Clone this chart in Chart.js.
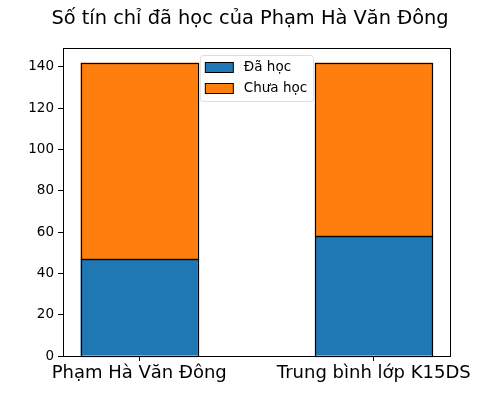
<!DOCTYPE html>
<html>
<head>
<meta charset="utf-8">
<script src="https://cdn.jsdelivr.net/npm/chart.js@4.4.1/dist/chart.umd.min.js"></script>
<style>
    html, body { margin: 0; padding: 0; background: #fff; }
    #wrap { width: 500px; height: 400px; }
</style>
</head>
<body>
<div id="wrap"><canvas id="chart"></canvas></div>
<script>
// data
const categories = ['Phạm Hà Văn Đông', 'Trung bình lớp K15DS'];
const daHoc = [47, 58];
const chuaHoc = [95, 84];
const seriesNames = ['Đã học', 'Chưa học'];
const yTicks = [0, 20, 40, 60, 80, 100, 120, 140];
const titleText = 'Số tín chỉ đã học của Phạm Hà Văn Đông';

const FONT = 'DejaVu Sans';

function points(values) {
    return values.map(function (v, i) { return { x: i, y: v }; });
}

// crisp black edges on the bars, taken from the bar elements
const edgePlugin = {
    id: 'edges',
    afterDatasetsDraw: function (chart) {
        const ctx = chart.ctx;
        ctx.save();
        ctx.strokeStyle = '#000';
        ctx.lineWidth = 1.2;
        chart.data.datasets.forEach(function (d, i) {
            chart.getDatasetMeta(i).data.forEach(function (bar) {
                const l = Math.round(bar.x - bar.width / 2) + 0.5;
                const r = Math.round(bar.x + bar.width / 2) + 0.5;
                const t = Math.round(Math.min(bar.y, bar.base)) + 0.5;
                const b = Math.round(Math.max(bar.y, bar.base)) + 0.5;
                ctx.strokeRect(l, t, r - l, b - t);
            });
        });
        ctx.restore();
    }
};

// plot frame + title + legend, matplotlib style
const decorPlugin = {
    id: 'decor',
    afterDraw: function (chart) {
        const ctx = chart.ctx;
        const a = chart.chartArea;
        ctx.save();

        ctx.strokeStyle = '#000';
        ctx.lineWidth = 1;
        ctx.strokeRect(Math.round(a.left) + 0.5, Math.round(a.top) + 0.5,
            Math.round(a.right - a.left), Math.round(a.bottom - a.top));

        ctx.fillStyle = '#000';
        ctx.font = '19.4px "' + FONT + '"';
        ctx.textAlign = 'center';
        ctx.textBaseline = 'middle';
        ctx.fillText(titleText, 250, 19);

        // legend
        const ds = chart.data.datasets;
        ctx.font = '13.5px "' + FONT + '"';
        let textW = 0;
        ds.forEach(function (d) { textW = Math.max(textW, ctx.measureText(d.label).width); });
        const boxW = 5 + 29 + 10 + textW + 6;
        const boxH = 46;
        const bx = (a.left + a.right) / 2 - boxW / 2;
        const by = a.top + 7;

        ctx.globalAlpha = 0.8;
        ctx.fillStyle = '#fff';
        ctx.strokeStyle = '#d6d6d6';
        ctx.beginPath();
        ctx.roundRect(bx + 0.5, by + 0.5, boxW, boxH, 3);
        ctx.fill();
        ctx.stroke();
        ctx.globalAlpha = 1;

        ds.forEach(function (d, i) {
            const rowY = by + 12 + i * 21;
            ctx.fillStyle = d.backgroundColor;
            ctx.fillRect(bx + 5.5, rowY - 4.5, 28, 10);
            ctx.strokeStyle = '#000';
            ctx.strokeRect(bx + 5.5, rowY - 4.5, 28, 10);
            ctx.fillStyle = '#000';
            ctx.textAlign = 'left';
            ctx.textBaseline = 'middle';
            ctx.fillText(d.label, bx + 44, rowY + 0.5);
        });

        ctx.restore();
    }
};

new Chart(document.getElementById('chart'), {
    type: 'bar',
    plugins: [edgePlugin, decorPlugin],
    data: {
        datasets: [{
            label: seriesNames[0],
            data: points(daHoc),
            backgroundColor: '#1f77b4',
            borderWidth: 0
        }, {
            label: seriesNames[1],
            data: points(chuaHoc),
            backgroundColor: '#ff7f0e',
            borderWidth: 0
        }]
    },
    options: {
        responsive: true,
        maintainAspectRatio: false,
        animation: false,
        barPercentage: 0.5,
        categoryPercentage: 1,
        layout: {
            padding: { top: 48, right: 50, left: 0, bottom: 0 }
        },
        scales: {
            x: {
                type: 'linear',
                stacked: true,
                offset: false,
                min: -0.325,
                max: 1.325,
                afterBuildTicks: function (scale) {
                    scale.ticks = categories.map(function (c, i) { return { value: i }; });
                },
                afterFit: function (scale) { scale.height = 44; },
                border: { display: false },
                grid: {
                    drawOnChartArea: false,
                    drawTicks: true,
                    tickLength: 5,
                    color: '#000',
                    offset: false
                },
                ticks: {
                    autoSkip: false,
                    maxRotation: 0,
                    padding: 2,
                    color: '#000',
                    font: { family: FONT, size: 18 },
                    callback: function (v) { return categories[v]; }
                }
            },
            y: {
                stacked: true,
                min: 0,
                max: 149.1,
                afterBuildTicks: function (scale) {
                    scale.ticks = yTicks.map(function (v) { return { value: v }; });
                },
                afterFit: function (scale) { scale.width = 63; },
                border: { display: false },
                grid: {
                    drawOnChartArea: false,
                    drawTicks: true,
                    tickLength: 5,
                    color: '#000'
                },
                ticks: {
                    padding: 4,
                    color: '#000',
                    font: { family: FONT, size: 13.5 }
                }
            }
        },
        plugins: {
            legend: { display: false },
            title: { display: false },
            tooltip: { enabled: false }
        }
    }
});
</script>
</body>
</html>
